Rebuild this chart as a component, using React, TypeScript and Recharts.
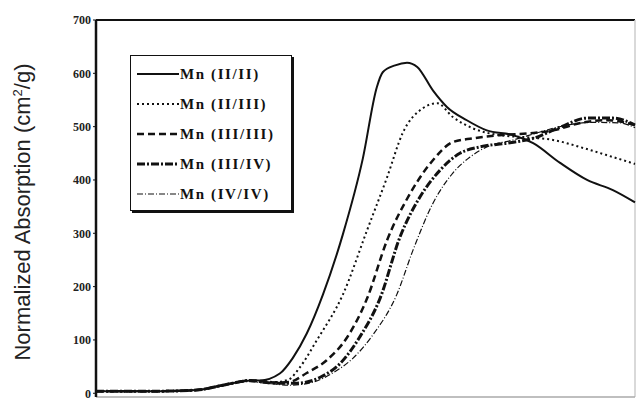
import React from "react"
import { LineChart, Line, XAxis, YAxis, ReferenceLine } from "recharts"

// energy position (arbitrary units, axis labels not shown) and normalized absorption
const mn22: [number, number][] = [
  [0, 4], [12.4, 4], [18.7, 6], [23, 14], [25.4, 19], [28.6, 24], [30.4, 24],
  [34.1, 37], [36.5, 66], [39.1, 112], [42.1, 185], [45.8, 298], [49.5, 440],
  [52.1, 574], [53.2, 602], [55.5, 615], [57.7, 620], [59.6, 612], [62.5, 568],
  [65.1, 537], [68.8, 512], [72.5, 493], [77.4, 484], [81.1, 469], [86.1, 432],
  [91.1, 400], [95.9, 381], [100, 358],
]
const mn23: [number, number][] = [
  [0, 4], [12.4, 4], [18.7, 6], [23, 14], [25.4, 19], [28.6, 24], [30.4, 23],
  [33.4, 21], [35.8, 26], [37.7, 47], [41, 100], [45.8, 185], [50.3, 306],
  [54, 405], [56.9, 488], [60.7, 535], [63.3, 544], [66.2, 518], [69.9, 497],
  [74.9, 484], [79.9, 480], [84.8, 475], [90.4, 460], [95.9, 443], [100, 430],
]
const mn33: [number, number][] = [
  [0, 4], [12.4, 4], [18.7, 6], [23, 14], [25.4, 19], [28.6, 24], [30.4, 23],
  [33.4, 20], [35.8, 21], [39.1, 38], [42.8, 62], [46.6, 105], [50.3, 178],
  [54, 287], [58.3, 375], [62.5, 437], [66.2, 471], [69.9, 478], [74.9, 484],
  [81.1, 488], [84.8, 493], [90.4, 508], [94.8, 512], [100, 503],
]
const mn34: [number, number][] = [
  [0, 4], [12.4, 4], [18.7, 6], [23, 14], [25.4, 19], [28.6, 24], [30.4, 22],
  [33.4, 19], [37.3, 19], [41.6, 30], [45.3, 56], [48.9, 105], [52.7, 178],
  [56.4, 293], [60.1, 368], [63.8, 418], [67.5, 450], [71.2, 462], [76.3, 469],
  [81.1, 478], [86.1, 499], [91.1, 516], [95.9, 516], [100, 503],
]
const mn44: [number, number][] = [
  [0, 4], [12.4, 4], [18.7, 6], [23, 13], [25.4, 18], [28.6, 22], [30.4, 20],
  [33.4, 17], [35.8, 15], [40.3, 21], [43.9, 38], [47.7, 66], [51.4, 110],
  [55.8, 185], [58.8, 268], [62.5, 356], [66.2, 413], [69.4, 443], [72.5, 462],
  [77.4, 475], [82.4, 490], [87.4, 503], [92.2, 508], [97.2, 507], [100, 498],
]

const yTicks = [0, 100, 200, 300, 400, 500, 600, 700]

const toRows = (pts: [number, number][]) => pts.map(([x, y]) => ({ x, y }))

const series = [
  { name: "Mn (II/II)", data: toRows(mn22), dash: undefined, width: 2 },
  { name: "Mn (II/III)", data: toRows(mn23), dash: "2 3", width: 2 },
  { name: "Mn (III/III)", data: toRows(mn33), dash: "7 4", width: 2.5 },
  { name: "Mn (III/IV)", data: toRows(mn34), dash: "8 2 2 2", width: 3 },
  { name: "Mn (IV/IV)", data: toRows(mn44), dash: "6 2 1 2", width: 1.2 },
]

const serif = "'Liberation Serif', 'Times New Roman', serif"

function LegendBox() {
  return (
    <div
      style={{
        position: "absolute",
        left: 130,
        top: 55,
        width: 162,
        height: 156,
        border: "1.5px solid #111",
        boxShadow: "2px 2px 0 #111",
        background: "#fff",
        boxSizing: "border-box",
        paddingTop: 3,
      }}
    >
      {series.map((s) => (
        <div
          key={s.name}
          style={{ height: 30, display: "flex", alignItems: "center" }}
        >
          <svg width={48} height={10} style={{ marginLeft: 6 }}>
            <line
              x1={0}
              y1={5}
              x2={42}
              y2={5}
              stroke="#111"
              strokeWidth={s.width}
              strokeDasharray={s.dash}
            />
          </svg>
          <span
            style={{
              fontFamily: serif,
              fontWeight: "bold",
              fontSize: 15,
              letterSpacing: 1.6,
              color: "#111",
              marginLeft: -5,
            }}
          >
            {s.name}
          </span>
        </div>
      ))}
    </div>
  )
}

export default function App() {
  return (
    <div
      style={{
        position: "absolute",
        left: 0,
        top: 0,
        width: 639,
        height: 400,
        background: "#fff",
      }}
    >
      <LineChart
        width={639}
        height={400}
        margin={{ top: 20, right: 4, bottom: 2, left: 0 }}
      >
        <XAxis
          type="number"
          dataKey="x"
          domain={[0, 100]}
          tick={false}
          tickLine={false}
          height={1}
          axisLine={{ stroke: "#aaa", strokeWidth: 1.5 }}
        />
        <YAxis
          type="number"
          domain={[-7, 700]}
          ticks={yTicks}
          interval={0}
          width={96}
          tickSize={3}
          axisLine={{ stroke: "#111", strokeWidth: 2.5 }}
          tickLine={{ stroke: "#111" }}
          tick={{
            fontFamily: serif,
            fontWeight: "bold",
            fontSize: 12,
            fill: "#222",
          }}
        />
        <ReferenceLine y={700} stroke="#111" strokeWidth={2} />
        <ReferenceLine x={100} stroke="#ccc" strokeWidth={1.5} />
        {series.map((s) => (
          <Line
            key={s.name}
            data={s.data}
            dataKey="y"
            name={s.name}
            type="monotone"
            stroke="#111"
            strokeWidth={s.width}
            strokeDasharray={s.dash}
            dot={false}
            activeDot={false}
            isAnimationActive={false}
          />
        ))}
      </LineChart>
      <LegendBox />
      <div
        style={{
          position: "absolute",
          left: 23,
          top: 212,
          transform: "translate(-50%, -50%) rotate(-90deg)",
          whiteSpace: "nowrap",
          fontFamily: "'Liberation Sans', Arial, sans-serif",
          fontSize: 22,
          color: "#222",
        }}
      >
        Normalized Absorption (cm<sup style={{ fontSize: 13 }}>2</sup>/g)
      </div>
    </div>
  )
}
